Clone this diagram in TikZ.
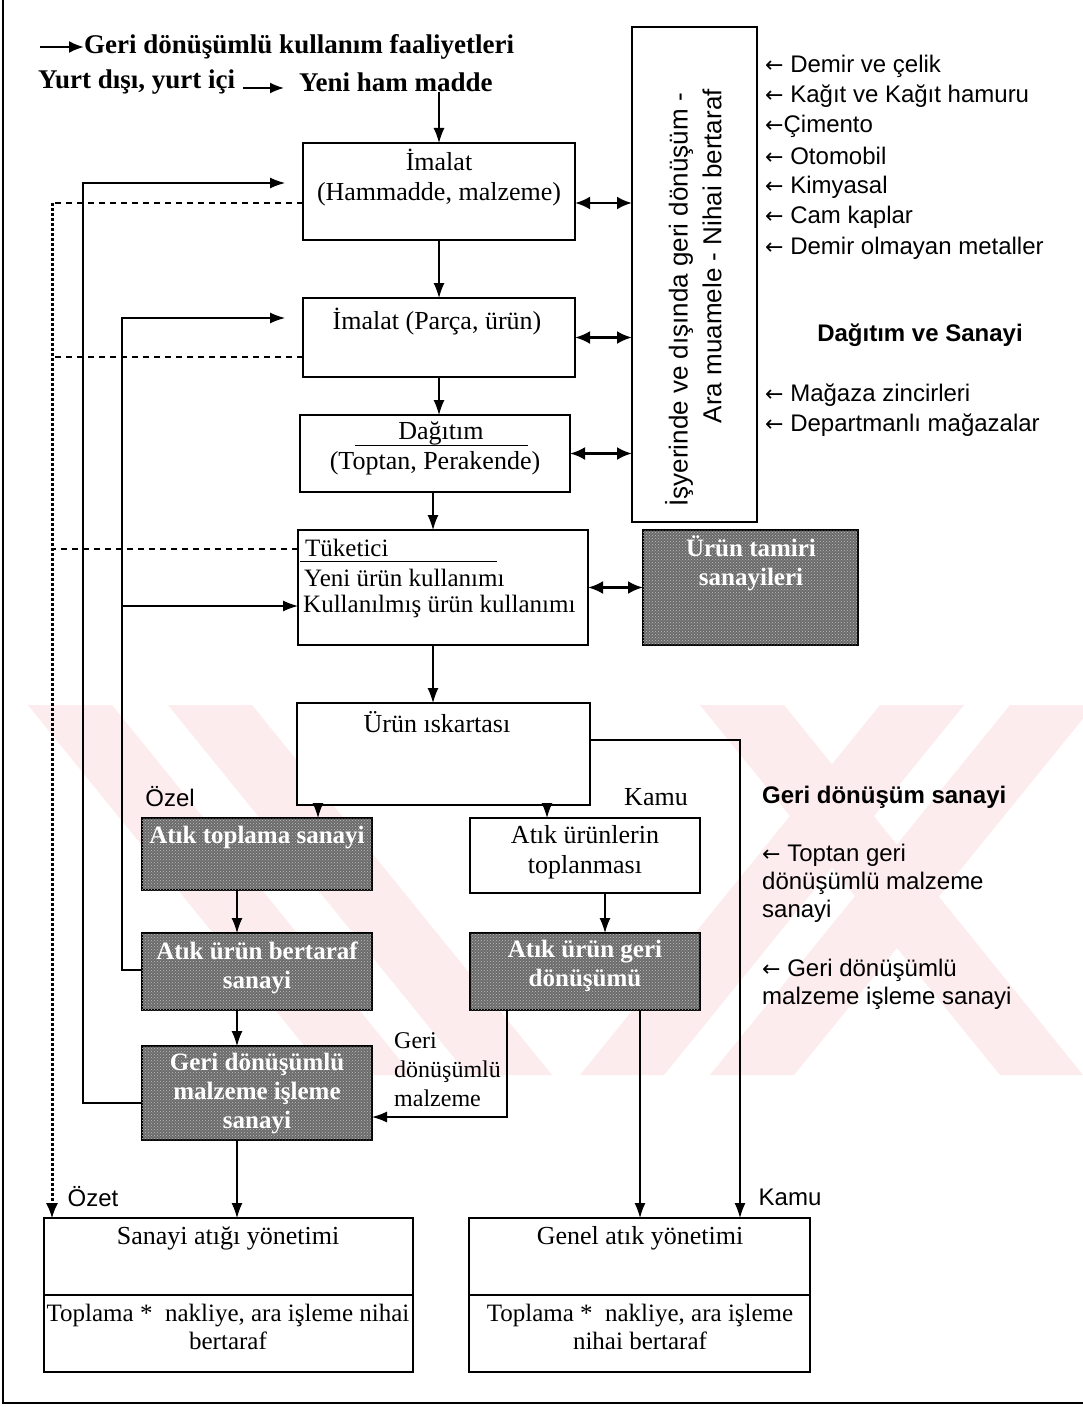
\documentclass[tikz,border=0pt]{standalone}
\usepackage{fontspec}
\setmainfont{Liberation Serif}
\newfontfamily\arial{Liberation Sans}
\newfontfamily\dejavu{DejaVu Sans}
\newcommand{\lar}{{\dejavu\fontsize{22}{24}\selectfont ←}}
\usetikzlibrary{arrows.meta,patterns,calc}
\definecolor{wm}{RGB}{253,236,238}
\begin{document}
\begin{tikzpicture}[x=1pt,y=-1pt,
  box/.style={draw,line width=1.3pt,fill=white,inner sep=0pt,outer sep=0pt,anchor=north west},
  hbox/.style={box,line width=2.2pt,fill=black!58,postaction={pattern=crosshatch dots,pattern color=white!75!black}},
  txt/.style={font=\fontsize{26}{30}\selectfont,inner sep=0pt,align=center},
  stxt/.style={font=\fontsize{25}{28}\selectfont,inner sep=0pt,align=center},
  htxt/.style={font=\fontsize{25}{29}\selectfont\bfseries,inner sep=0pt,align=center,text=white},
  sans/.style={font=\arial\fontsize{24}{28}\selectfont,inner sep=0pt,align=left},
  arr/.style={line width=1.3pt,-{Latex[length=15pt,width=11pt]}},
  dbl/.style={line width=2.8pt,{Latex[length=15pt,width=13pt]}-{Latex[length=15pt,width=13pt]}},
  dsh/.style={line width=1.3pt,dash pattern=on 6pt off 5pt},
  dotl/.style={line width=3pt,dash pattern=on 2.5pt off 2.5pt}
]
\useasboundingbox (0,0) rectangle (1083,1407);
\fill[white] (0,0) rectangle (1083,1407);
% watermark
\fill[wm] (28,705) -- (112,705) -- (412,1075) -- (328,1075) -- cycle;
\fill[wm] (168,705) -- (252,705) -- (552,1075) -- (468,1075) -- cycle;
\fill[wm] (880,705) -- (964,705) -- (664,1075) -- (580,1075) -- cycle;
\fill[wm] (1010,705) -- (1094,705) -- (794,1075) -- (710,1075) -- cycle;
\fill[wm] (700,705) -- (784,705) -- (1083,1075) -- (1000,1075) -- cycle;
% frame
\draw[line width=1.3pt] (3,0) -- (3,1403) -- (1083,1403);

% legend
\node[font=\fontsize{27}{30}\selectfont\bfseries,inner sep=0pt,anchor=west] (leg1) at (84,47) {Geri dönüşümlü kullanım faaliyetleri};
\coordinate (lg0) at (40,47);
\draw[line width=2.4pt,-{Latex[length=15pt,width=12pt]}] (lg0) -- (leg1.west);
\node[font=\fontsize{27}{30}\selectfont\bfseries,inner sep=0pt,anchor=west] (yd) at (38,82) {Yurt dışı, yurt içi};
\node[font=\fontsize{27}{30}\selectfont\bfseries,inner sep=0pt,anchor=west] (yhm) at (299,82) {Yeni ham madde};
\draw[line width=1.8pt,-{Latex[length=14pt,width=11pt]}] ([xshift=8,yshift=-6]yd.east) -- ([xshift=-15,yshift=-6]yhm.west);

% main column
\node[box,minimum width=272,minimum height=97] (b1) at (303,143) {};
\node[txt] (b1t) at (439,178) {İmalat\\(Hammadde, malzeme)};
\node[box,minimum width=272,minimum height=79] (b2) at (303,298) {};
\node[txt] (b2t) at (437,322) {İmalat (Parça, ürün)};
\node[box,minimum width=270,minimum height=77] (b3) at (300,415) {};
\node[txt] (b3a) at (441,433) {Dağıtım};
\draw[line width=1pt] (355,445) -- (528,445);
\node[txt] (b3b) at (435,463) {(Toptan, Perakende)};
\node[box,minimum width=290,minimum height=115] (b4) at (298,530) {};
\node[txt,font=\fontsize{25}{29}\selectfont,anchor=west] (b4a) at (305,548) {Tüketici};
\draw[line width=1pt] (300,561) -- (497,561);
\node[txt,font=\fontsize{25}{29}\selectfont,anchor=west] (b4b) at (304,578) {Yeni ürün kullanımı};
\node[txt,font=\fontsize{25}{29}\selectfont,anchor=west] (b4c) at (303,606) {Kullanılmış ürün kullanımı};
\node[box,minimum width=293,minimum height=102] (b5) at (297,703) {};
\node[txt] (b5t) at (437,722) {Ürün ıskartası};

% vertical box
\node[box,line width=2.6pt,minimum width=125,minimum height=495] (v) at (632,27) {};
\node[font=\arial\fontsize{26}{30}\selectfont,inner sep=0pt,rotate=90,anchor=east] (v1) at (679,93) {İşyerinde ve dışında geri dönüşüm -};
\node[font=\arial\fontsize{26}{30}\selectfont,inner sep=0pt,rotate=90,anchor=east] (v2) at (712,89) {Ara muamele - Nihai bertaraf};

% hatched box next to consumer
\node[hbox,minimum width=215,minimum height=115] (h1) at (643,530) {};
\node[htxt] (h1t) at (751,563) {Ürün tamiri\\sanayileri};

% private column
\node[sans,anchor=center] (ozel) at (170,797) {Özel};
\node[hbox,minimum width=230,minimum height=72] (p1) at (142,818) {};
\node[htxt] (p1t) at (257,838) {Atık toplama sanayi};
\node[hbox,minimum width=230,minimum height=77] (p2) at (142,933) {};
\node[htxt] (p2t) at (257,968) {Atık ürün bertaraf\\sanayi};
\node[hbox,minimum width=230,minimum height=94] (p3) at (142,1046) {};
\node[htxt] (p3t) at (257,1094) {Geri dönüşümlü\\malzeme işleme\\sanayi};

% public column
\node[txt] (kamu1) at (656,797) {Kamu};
\node[box,minimum width=230,minimum height=75] (k1) at (470,818) {};
\node[txt] (k1t) at (585,852) {Atık ürünlerin\\toplanması};
\node[hbox,minimum width=230,minimum height=77] (k2) at (470,933) {};
\node[htxt] (k2t) at (585,966) {Atık ürün geri\\dönüşümü};
\node[txt,font=\fontsize{24}{29}\selectfont,align=left,anchor=north west] (gdm) at (394,1032) {Geri\\dönüşümlü\\malzeme};

% bottom boxes
\node[sans,anchor=center] (ozet) at (93,1197) {Özet};
\node[sans,anchor=center] (kamu2) at (790,1197) {Kamu};
\node[box,minimum width=369,minimum height=77] (s1) at (44,1218) {};
\node[txt] (s1t) at (228,1238) {Sanayi atığı yönetimi};
\node[box,minimum width=369,minimum height=77] (s2) at (44,1295) {};
\node[stxt] (s2t) at (228,1327) {Toplama *\ \ nakliye, ara işleme nihai\\bertaraf};
\node[box,minimum width=341,minimum height=77] (g1) at (469,1218) {};
\node[txt] (g1t) at (640,1238) {Genel atık yönetimi};
\node[box,minimum width=341,minimum height=77] (g2) at (469,1295) {};
\node[stxt] (g2t) at (640,1327) {Toplama *\ \ nakliye, ara işleme\\nihai bertaraf};

% right column texts
\node[sans,anchor=west] (r1) at (765,66) {\lar\ Demir ve çelik};
\node[sans,anchor=west] (r2) at (765,96) {\lar\ Kağıt ve Kağıt hamuru};
\node[sans,anchor=west] (r3) at (765,126) {\lar Çimento};
\node[sans,anchor=west] (r4) at (765,156) {\lar\ Otomobil};
\node[sans,anchor=west] (r5) at (765,187) {\lar\ Kimyasal};
\node[sans,anchor=west] (r6) at (765,217) {\lar\ Cam kaplar};
\node[sans,anchor=west] (r7) at (765,248) {\lar\ Demir olmayan metaller};
\node[sans,anchor=center,font=\arial\bfseries\fontsize{24}{28}\selectfont] (r8) at (920,335) {Dağıtım ve Sanayi};
\node[sans,anchor=west] (r9) at (765,395) {\lar\ Mağaza zincirleri};
\node[sans,anchor=west] (r10) at (765,425) {\lar\ Departmanlı mağazalar};
\node[sans,anchor=west,font=\arial\bfseries\fontsize{24}{28}\selectfont] (r11) at (762,797) {Geri dönüşüm sanayi};
\node[sans,anchor=north west] (r12) at (762,844) {\lar\ Toptan geri\\dönüşümlü malzeme\\sanayi};
\node[sans,anchor=north west] (r13) at (762,959) {\lar\ Geri dönüşümlü\\malzeme işleme sanayi};

% main flow arrows
\draw[arr] (yhm.south -| b1.north) -- (b1.north);
\draw[arr] (b1.south) -- (b2.north);
\draw[arr] (b2.south) -- (b2.south |- b3.north);
\draw[arr] ([xshift=-2]b3.south) -- ([xshift=-2]b3.south |- b4.north);
\draw[arr] ([xshift=-2]b3.south |- b4.south) -- ([xshift=-2]b3.south |- b5.north);
\draw[arr] ([xshift=21]b5.south west) -- ([xshift=21]b5.south west |- p1.north);
\draw[arr] ([xshift=250]b5.south west) -- ([xshift=250]b5.south west |- k1.north);
\coordinate (c5) at (740,740);
\draw[arr] (b5.east |- c5) -- (c5) -- (c5 |- g1.north);
\draw[arr] ([xshift=95]p1.south west) -- ([xshift=95]p1.south west |- p2.north);
\draw[arr] ([xshift=95]p2.south west) -- ([xshift=95]p2.south west |- p3.north);
\draw[arr] ([xshift=95]p3.south west) -- ([xshift=95]p3.south west |- s1.north);
\draw[arr] ([xshift=135]k1.south west) -- ([xshift=135]k1.south west |- k2.north);
\draw[arr] ([xshift=170]k2.south west) -- ([xshift=170]k2.south west |- g1.north);
\draw[arr] ([xshift=37]k2.south west) |- ([yshift=-24]p3.east);

% feedback loops
\coordinate (l1) at (83,183);
\draw[arr] ([yshift=-10]p3.west) -| (l1) -- ([xshift=-18]l1 -| b1.west);
\coordinate (l2) at (122,318);
\draw[arr] ([yshift=1.5]p2.west) -| (l2) -- ([xshift=-18]l2 -| b2.west);
\coordinate (l3) at (122,606);
\draw[arr] (l3) -- (l3 -| b4.west);

% dashed and dotted lines
\coordinate (d1) at (52,203);
\coordinate (d2) at (52,357);
\coordinate (d3) at (52,549);
\draw[dsh] (b1.west |- d1) -- (d1);
\draw[dsh] (b2.west |- d2) -- (d2);
\draw[dsh] (b4.west |- d3) -- (d3);
\draw[dotl] (d1) -- ([yshift=12]d1 |- s1.north);
\draw[-{Latex[length=15pt,width=12pt]},line width=1.2pt] ([yshift=15]d1 |- s1.north) -- (d1 |- s1.north);

% double arrows
\coordinate (e1) at (575,203);
\draw[dbl] (e1) -- (e1 -| v.west);
\draw[dbl] (b2.east) -- (b2.east -| v.west);
\draw[dbl] (b3.east) -- (b3.east -| v.west);
\draw[dbl] (b4.east) -- (h1.west);
\end{tikzpicture}
\end{document}
